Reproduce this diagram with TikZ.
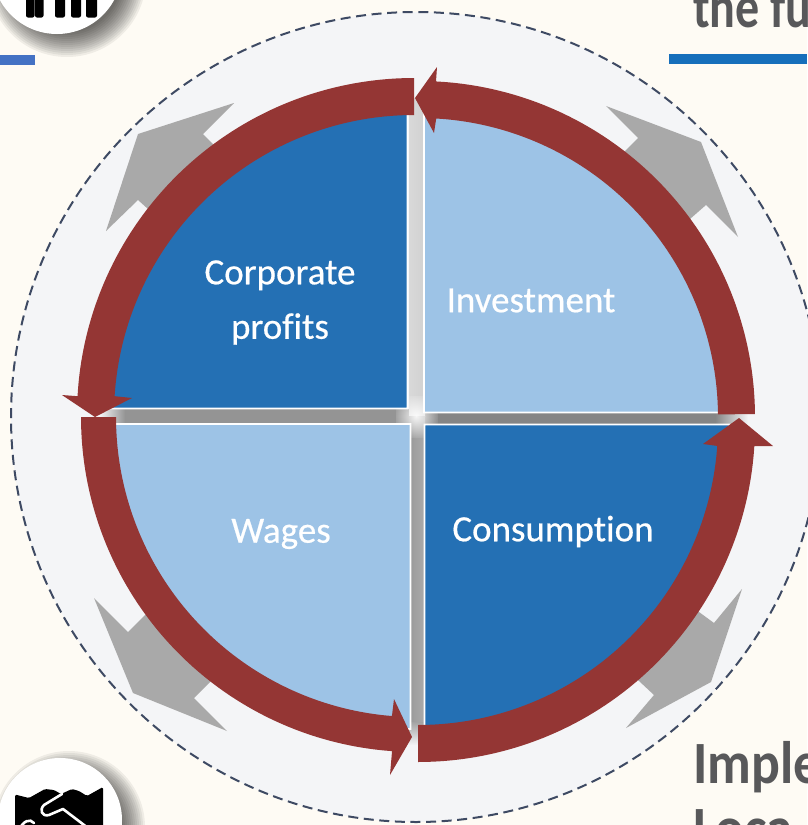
\documentclass[tikz,border=0pt]{standalone}
\usepackage{fontspec}
\setmainfont{Carlito}
\newfontfamily\labelfont[FakeBold=0.5,Ligatures=NoCommon]{Carlito}
\usetikzlibrary{fadings}
\tikzfading[name=softglow,inner color=transparent!10,outer color=transparent!100]
\definecolor{bgcream}{HTML}{FEFBF4}
\definecolor{discfill}{HTML}{F4F5F7}
\definecolor{dashcol}{HTML}{3E4A63}
\definecolor{ringred}{HTML}{943634}
\definecolor{darkblue}{HTML}{2470B4}
\definecolor{lightblue}{HTML}{9DC3E6}
\definecolor{arrowgray}{HTML}{A9A9A9}
\definecolor{headtext}{HTML}{58585A}
\definecolor{barleft}{HTML}{4472C4}
\definecolor{barright}{HTML}{166FBB}
\tikzset{
  grayarrow/.style={fill=arrowgray,draw=none},
  ringarrow/.style={fill=ringred,draw=none},
  quadrant/.style={draw=white,line width=1.6pt,miter limit=10},
  quadlabel/.style={text=white,align=center,font=\labelfont\fontsize{37}{54.5}\selectfont,inner sep=0pt},
  headline/.style={text=headtext,anchor=base west,inner sep=0pt,font=\fontsize{60}{60}\selectfont\bfseries,xscale=.8,transform shape},
  curve/.style={domain=#1,samples=60,smooth},
}
\newcommand{\circshadow}[3]{%
  \foreach \k in {14,12,...,-10}{\fill[black,opacity=.06] (#1,#2) circle ({#3+\k*1pt});}%
}
\begin{document}
\begin{tikzpicture}[x=1pt,y=-1pt]
\useasboundingbox (0,0) rectangle (807,825);
\fill[bgcream] (0,0) rectangle (807,825);
% header bars
\fill[barleft] (0,55) rectangle (35,65);
\fill[barright] (669,53.500) rectangle (807,64);
% background text
\node[headline] (thefu) at (693,27) {the fu};
\node[headline,xscale=1.12] (imple) at (693,783.5) {Imple};
\node[headline,xscale=1.12] (loca)  at (693,848) {Loca};
% top icon
\begin{scope}[shift={(10,9)}]\circshadow{57}{-31}{65}\end{scope}
\fill[white] (57,-31) circle (65pt);
\foreach \a/\b in {26/34.5,35/43.500,55/65,71/81,86/97}{
  \fill[black,rounded corners=2pt] (\a,-6) rectangle (\b,17.500);
}
% bottom icon
\begin{scope}[shift={(9,7)}]\circshadow{60}{820}{62}\end{scope}
\fill[white] (60,820) circle (62pt);
\fill[black,rounded corners=1.5pt] (15,794.500) -- (29,798) -- (45,789) -- (54,790) -- (61,794) -- (72,789) -- (79,791) -- (87,796) -- (103,787) -- (103,830) -- (15,830) -- cycle;
\draw[white,line width=2.6pt,line cap=round,line join=round] (62,794) -- (44,805) .. controls (39,810) and (42,817) .. (49,815) -- (63,809) -- (88,828);
\draw[white,line width=2.6pt,line cap=round] (19,830) .. controls (23,821) and (30,818) .. (34,823);
% disc
\fill[discfill] (416,417) circle (405pt);
\draw[dashcol,line width=2pt,dash pattern=on 10pt off 5.600pt] (416,417) circle (405pt);
% gray outward arrows
\fill[grayarrow] (218,149) -- (213,144) -- (203,134) -- (234,103) -- (138,134) -- (106,231) -- (138,200) -- (148,209) -- (153,214) -- cycle;
\fill[grayarrow] (618,158) -- (623,153) -- (638,138) -- (606,106) -- (701,142) -- (738,237) -- (706,205) -- (690,219) -- (685,214) -- cycle;
\fill[grayarrow] (148,612) -- (143,617) -- (128,632) -- (94,598) -- (133,693) -- (227,731) -- (194,698) -- (208,684) -- (213,679) -- cycle;
\fill[grayarrow] (694,607) -- (699,612) -- (714,623) -- (742,589) -- (711,682) -- (626,728) -- (654,695) -- (639,681) -- (634,676) -- cycle;
% cross between the quadrants
\fill[black!42] (125,409) rectangle (416,424);
\fill[black!48] (416,409) rectangle (715,424);
\shade[left color=discfill,right color=black!42] (100,409) rectangle (125,424);
\shade[left color=black!48,right color=discfill] (715,409) rectangle (748,424);
\shade[left color=black!15,middle color=black!38,right color=black!18] (409,98) rectangle (425,416);
\shade[left color=black!40,right color=black!33] (409,416) rectangle (425,722);
\shade[top color=black!36,bottom color=discfill] (409,722) rectangle (425,745);
\begin{scope}
  \clip (396,409) rectangle (438,424) (409,396) rectangle (425,438);
  \fill[white,path fading=softglow] (416,416) circle (24pt);
\end{scope}
% quadrants
\draw[quadrant,fill=darkblue] (407.500,408.500) -- plot[curve=90:180] ({407.5+306*cos(\x)},{408.5-306*sin(\x)}) -- cycle;
\draw[quadrant,fill=lightblue] (424,412.500) -- plot[curve=0:90] ({424+305*cos(\x)},{412.5-305*sin(\x)}) -- cycle;
\draw[quadrant,fill=lightblue] (410.500,424) -- plot[curve=180:270] ({410.5+305*cos(\x)},{424-305*sin(\x)}) -- cycle;
\draw[quadrant,fill=darkblue] (424.500,424.500) -- plot[curve=270:360] ({424.5+305*cos(\x)},{424.5-305*sin(\x)}) -- cycle;
% red ring of arrows
\fill[ringarrow] plot[curve=90:176.8] ({414+337*cos(\x)},{415-337*sin(\x)}) -- (62,395) -- (95,417) -- (132,398) -- plot[curve=176.4:90] ({414+300*cos(\x)},{415-300*sin(\x)}) -- cycle;
\fill[ringarrow] plot[curve=0.5:87.1] ({419+336*cos(\x)},{417-336*sin(\x)}) -- (437,67) -- (415,98) -- (434,133) -- plot[curve=86.7:0.5] ({419+299*cos(\x)},{417-299*sin(\x)}) -- cycle;
\fill[ringarrow] plot[curve=180:265.9] ({416+335*cos(\x)},{417-335*sin(\x)}) -- (390,775) -- (412,737) -- (394,699) -- plot[curve=265.4:180] ({416+300*cos(\x)},{417-300*sin(\x)}) -- cycle;
\fill[ringarrow] plot[curve=270:356.4] ({418+337*cos(\x)},{425-337*sin(\x)}) -- (773,446) -- (739,418) -- (703,444) -- plot[curve=356:270] ({418+300*cos(\x)},{425-300*sin(\x)}) -- cycle;
% labels
\node[quadlabel] (profits) at (280,302.500) {Corporate\\profits};
\node[quadlabel] (invest) at (531,300.500) {Investment};
\node[quadlabel] (wages) at (281,534) {Wages};
\node[quadlabel] (consum) at (553,531.500) {Consumption};
\end{tikzpicture}
\end{document}
